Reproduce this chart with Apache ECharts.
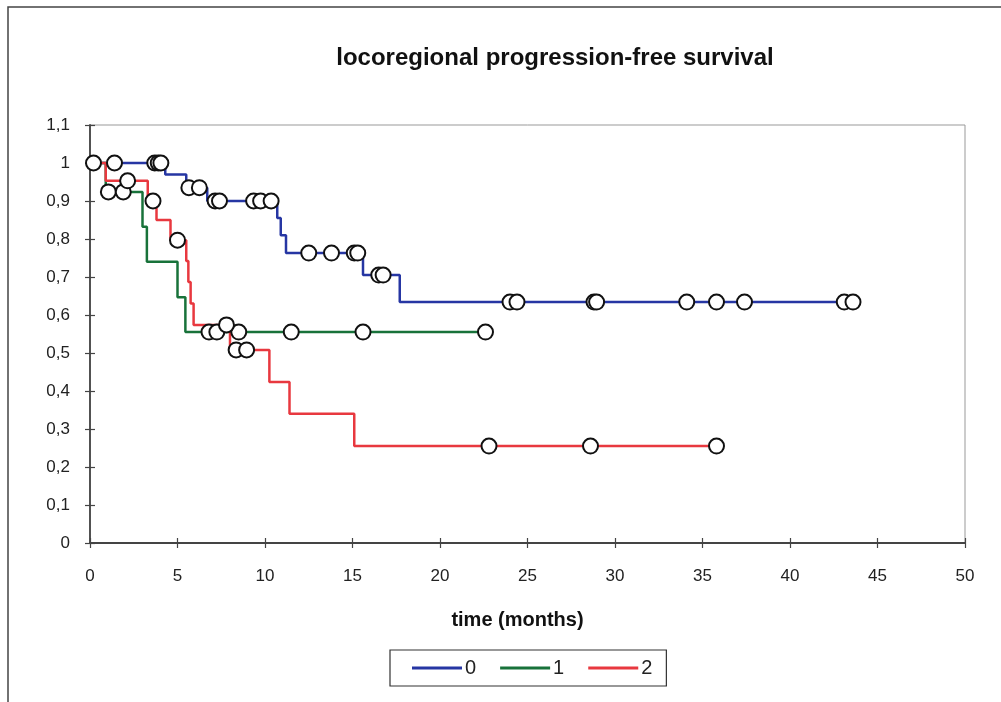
<!DOCTYPE html>
<html>
<head>
<meta charset="utf-8">
<script src="https://cdn.jsdelivr.net/npm/echarts@6/dist/echarts.min.js"></script>
<style>
html,body{margin:0;padding:0;background:#fff;}
#chart{width:1001px;height:702px;}
</style>
</head>
<body>
<div id="chart"></div>
<script>
// ---- data (time in months, survival proportion) ----
const titleText = 'locoregional progression-free survival';
const xAxisName = 'time (months)';
const groupNames = ['0', '1', '2'];

// Kaplan-Meier step points: [time, survival]
const steps0 = [[0,1],[4.3,0.97],[5.5,0.935],[6.7,0.90],[10.7,0.855],[10.9,0.81],[11.2,0.763],[15.6,0.705],[17.7,0.634],[43.9,0.634]];
const steps1 = [[0,1],[0.9,0.924],[3.0,0.832],[3.25,0.74],[5.0,0.647],[5.45,0.555],[22.6,0.555]];
const steps2 = [[0,1],[0.9,0.953],[3.3,0.9],[3.8,0.85],[4.6,0.797],[5.5,0.742],[5.62,0.687],[5.75,0.63],[5.92,0.574],[8.0,0.508],[10.25,0.424],[11.4,0.34],[15.1,0.255],[35.9,0.255]];

// censored observations: [time, survival]
const cens0 = [[1.4,1],[3.7,1],[3.9,1],[4.05,1],[5.65,0.935],[6.25,0.935],[7.15,0.9],[7.4,0.9],[9.35,0.9],[9.75,0.9],[10.35,0.9],[12.5,0.763],[13.8,0.763],[15.1,0.763],[15.3,0.763],[16.5,0.705],[16.75,0.705],[24.0,0.634],[24.4,0.634],[28.8,0.634],[28.95,0.634],[34.1,0.634],[35.8,0.634],[37.4,0.634],[43.1,0.634],[43.6,0.634]];
const cens1 = [[1.05,0.924],[1.9,0.924],[6.8,0.555],[7.25,0.555],[8.5,0.555],[11.5,0.555],[15.6,0.555],[22.6,0.555]];
const cens2 = [[0.2,1],[2.15,0.953],[3.6,0.9],[5.0,0.797],[7.8,0.574],[8.35,0.508],[8.95,0.508],[22.8,0.255],[28.6,0.255],[35.8,0.255]];

const colors = ['#2636a3', '#18723a', '#e8383f'];

const chart = echarts.init(document.getElementById('chart'));
const fmtY = v => String(Math.round(v * 10) / 10).replace('.', ',');
const axisFont = {fontFamily: 'Liberation Sans', fontSize: 17, color: '#222'};

function lineSeries(name, data, color) {
  return {
    name: name, type: 'line', step: 'end', data: data,
    showSymbol: false, symbol: 'none',
    lineStyle: {color: color, width: 2.5},
    itemStyle: {color: color},
    xAxisIndex: 0, yAxisIndex: 0, z: 2, animation: false
  };
}
function censSeries(name, data) {
  return {
    name: name, type: 'scatter', data: data,
    symbol: 'circle', symbolSize: 15,
    itemStyle: {color: '#fff', borderColor: '#111', borderWidth: 2, opacity: 1},
    xAxisIndex: 0, yAxisIndex: 0, z: 3, animation: false
  };
}

const option = {
  animation: false,
  backgroundColor: '#fff',
  title: {
    text: titleText, left: 550, top: 41, textAlign: 'center',
    textStyle: {fontFamily: 'Liberation Sans', fontSize: 24, fontWeight: 'bold', color: '#111'}
  },
  graphic: [{
    type: 'rect', shape: {x: 8, y: 7, width: 1100, height: 800},
    style: {fill: null, stroke: '#444', lineWidth: 1.5}, silent: true, z: 0
  }],
  legend: {
    data: groupNames, left: 390, top: 650,
    orient: 'horizontal', icon: 'rect', itemWidth: 50, itemHeight: 3,
    itemGap: 24, padding: [8, 14, 8, 22],
    borderColor: '#333', borderWidth: 1.2, borderRadius: 0,
    textStyle: {fontFamily: 'Liberation Sans', fontSize: 20, color: '#222', padding: [0, 0, 0, -2]}
  },
  grid: {left: 90, right: 36, top: 125, bottom: 159, show: true, borderColor: '#999', borderWidth: 1},
  xAxis: [{
    type: 'value', min: 0, max: 50, interval: 5,
    name: xAxisName, nameLocation: 'middle', nameGap: 67,
    nameTextStyle: {fontFamily: 'Liberation Sans', fontSize: 20, fontWeight: 'bold', color: '#111', padding: [0, 20, 0, 0]},
    axisLine: {show: true, onZero: false, lineStyle: {color: '#444', width: 1.8}},
    axisTick: {show: true, inside: false, length: 5, lineStyle: {color: '#444', width: 1.2}},
    axisLabel: Object.assign({margin: 25}, axisFont),
    splitLine: {show: false}
  }, {
    type: 'value', min: 0, max: 50, interval: 5, position: 'bottom',
    axisLine: {show: false}, axisLabel: {show: false}, splitLine: {show: false},
    axisTick: {show: true, inside: true, length: 5, lineStyle: {color: '#444', width: 1.2}}
  }],
  yAxis: [{
    type: 'value', min: 0, max: 1.1, interval: 0.1,
    axisLine: {show: true, onZero: false, lineStyle: {color: '#444', width: 1.8}},
    axisTick: {show: true, inside: false, length: 5, lineStyle: {color: '#444', width: 1.2}},
    axisLabel: Object.assign({margin: 20, formatter: fmtY}, axisFont),
    splitLine: {show: false}
  }, {
    type: 'value', min: 0, max: 1.1, interval: 0.1, position: 'left',
    axisLine: {show: false}, axisLabel: {show: false}, splitLine: {show: false},
    axisTick: {show: true, inside: true, length: 5, lineStyle: {color: '#444', width: 1.2}}
  }],
  series: [
    lineSeries(groupNames[0], steps0, colors[0]),
    lineSeries(groupNames[1], steps1, colors[1]),
    lineSeries(groupNames[2], steps2, colors[2]),
    censSeries('c0', cens0),
    censSeries('c1', cens1),
    censSeries('c2', cens2)
  ]
};
chart.setOption(option);
</script>
</body>
</html>
